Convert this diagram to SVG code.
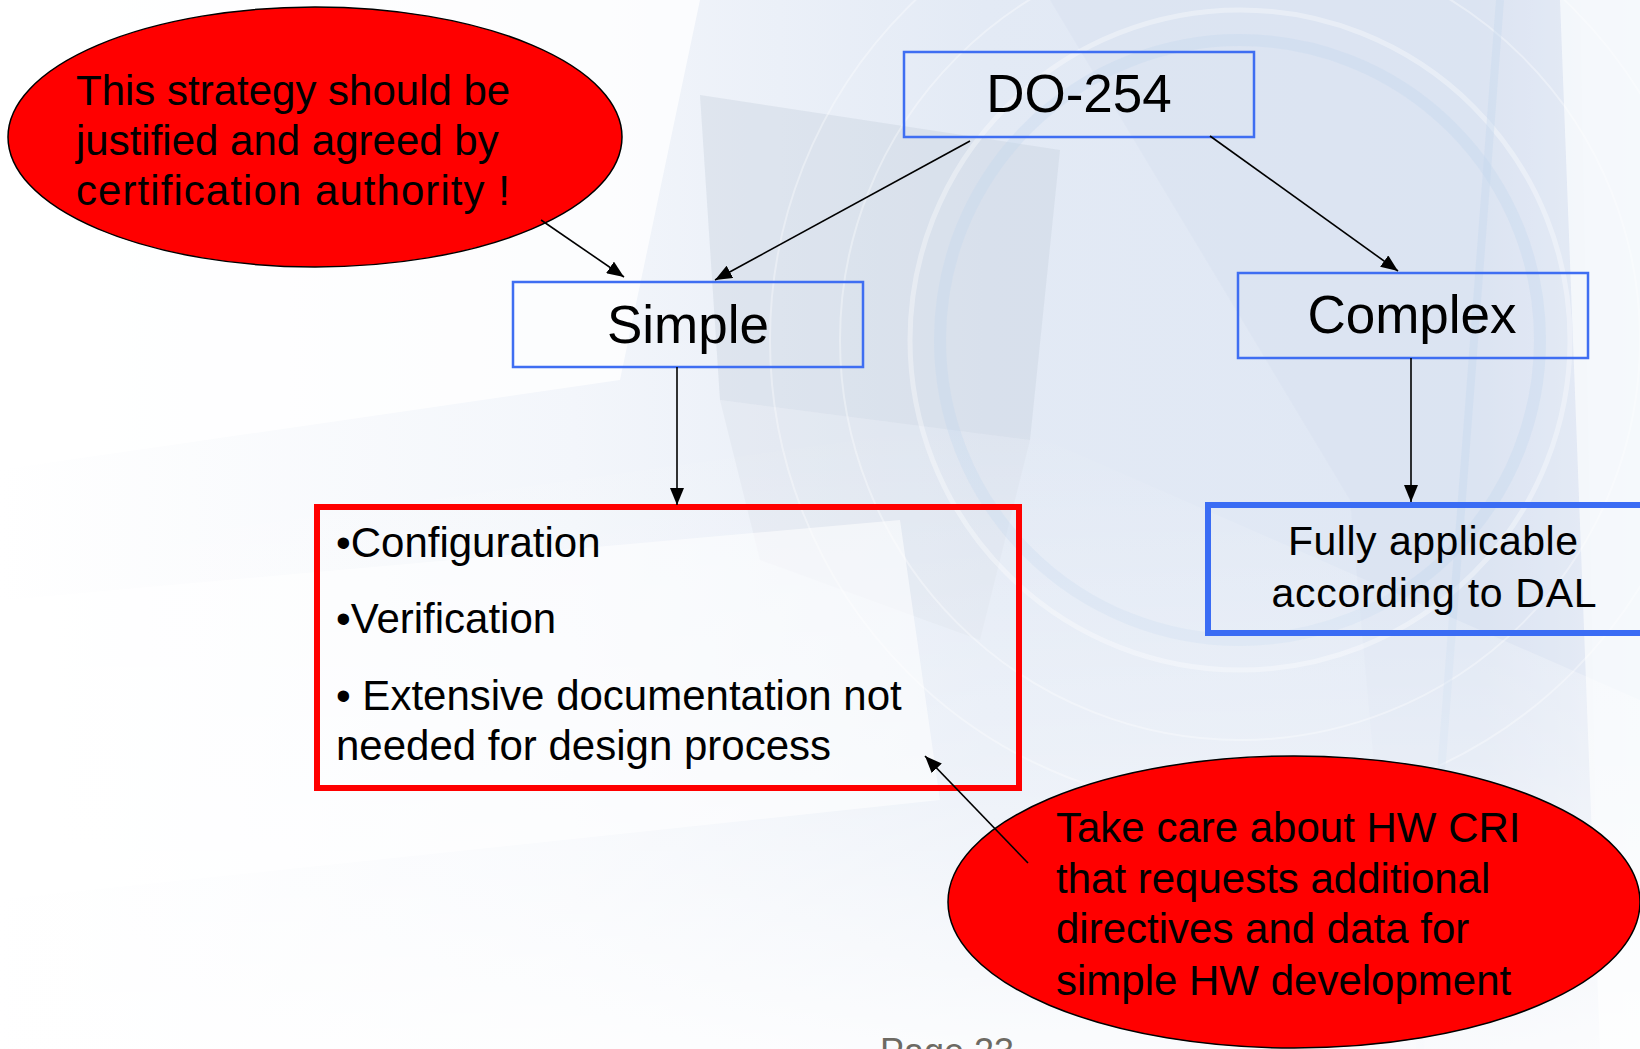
<svg xmlns="http://www.w3.org/2000/svg" width="1640" height="1049" viewBox="0 0 1640 1049">
  <defs>
    <style>
      .txt { font-family: "Liberation Sans", Arial, sans-serif; fill: #000; }
      .body { font-size: 42px; }
      .title { font-size: 53px; text-anchor: middle; }
      .thin-box { fill: none; stroke: #3f6ef2; stroke-width: 2.5; }
      .bubble { fill: #ff0000; stroke: #000; stroke-width: 1.5; }
      .edge { stroke: #000; stroke-width: 1.6; fill: none; marker-end: url(#arrow); }
    </style>
    <marker id="arrow" markerUnits="userSpaceOnUse" markerWidth="17" markerHeight="14" refX="17" refY="7" orient="auto">
      <path d="M0,0 L17,7 L0,14 z" fill="#000"/>
    </marker>
    <linearGradient id="bgFade" x1="0" y1="0" x2="1" y2="0">
      <stop offset="0" stop-color="#ffffff"/>
      <stop offset="0.35" stop-color="#f3f6fb"/>
      <stop offset="0.6" stop-color="#e3eaf5"/>
      <stop offset="0.9" stop-color="#dfe7f4"/>
      <stop offset="1" stop-color="#f6f8fc"/>
    </linearGradient>
    <linearGradient id="bgDown" x1="0" y1="0" x2="0" y2="1">
      <stop offset="0" stop-color="#ffffff" stop-opacity="0"/>
      <stop offset="0.55" stop-color="#ffffff" stop-opacity="0.35"/>
      <stop offset="1" stop-color="#ffffff" stop-opacity="0.85"/>
    </linearGradient>
  </defs>

  <!-- slide backdrop: soft blue abstract artwork -->
  <g id="backdrop">
    <rect x="0" y="0" width="1640" height="1049" fill="url(#bgFade)"/>
    <polygon points="0,0 700,0 620,380 0,470" fill="#ffffff" opacity="0.75"/>
    <polygon points="700,95 1060,150 1030,440 720,400" fill="#c8d2df" opacity="0.4"/>
    <polygon points="720,400 1030,440 980,640 760,560" fill="#d3dbe6" opacity="0.3"/>
    <polygon points="1050,0 1580,0 1600,1049 1400,1049 1350,500" fill="#d7e1f0" opacity="0.45"/>
    <polygon points="1560,0 1640,0 1640,1049 1600,1049" fill="#f5f8fc" opacity="0.9"/>
    <g fill="none" stroke="#ffffff" stroke-opacity="0.35">
      <circle cx="1240" cy="340" r="330" stroke-width="5"/>
      <circle cx="1240" cy="340" r="400" stroke-width="2"/>
      <circle cx="1240" cy="340" r="470" stroke-width="2"/>
    </g>
    <g fill="none" stroke="#c4d6ee" stroke-opacity="0.35">
      <circle cx="1240" cy="340" r="300" stroke-width="12"/>
      <path d="M1500,0 L1420,1049" stroke-width="8"/>
    </g>
    <polygon points="0,560 1000,420 1640,700 1640,1049 0,1049" fill="url(#bgDown)"/>
    <polygon points="0,600 900,520 940,800 0,900" fill="#ffffff" opacity="0.55"/>
  </g>

  <!-- page number -->
  <text class="txt" x="880" y="1064" font-size="36" style="fill:#6d6a63">Page 23</text>

  <g id="note-strategy">
    <ellipse class="bubble" cx="315" cy="137" rx="307" ry="130"/>
    <text class="txt body" x="76" y="105">This strategy should be</text>
    <text class="txt body" x="76" y="155">justified and agreed by</text>
    <text class="txt body" x="76" y="205" textLength="434">certification authority !</text>
  </g>

  <g id="node-do254">
    <rect class="thin-box" x="904" y="52" width="350" height="85"/>
    <text class="txt title" x="1079" y="112">DO-254</text>
  </g>

  <g id="node-simple">
    <rect class="thin-box" x="513" y="282" width="350" height="85"/>
    <text class="txt title" x="688" y="343">Simple</text>
  </g>

  <g id="node-complex">
    <rect class="thin-box" x="1238" y="273" width="350" height="85"/>
    <text class="txt title" x="1412" y="333">Complex</text>
  </g>

  <g id="node-simple-items">
    <rect x="317" y="507" width="702" height="281" fill="none" stroke="#ff0000" stroke-width="6"/>
    <text class="txt body" x="336" y="557">•Configuration</text>
    <text class="txt body" x="336" y="633">•Verification</text>
    <text class="txt body" x="336" y="710">• Extensive documentation not</text>
    <text class="txt body" x="336" y="760">needed for design process</text>
  </g>

  <g id="node-complex-dal">
    <rect x="1208" y="505" width="460" height="128" fill="none" stroke="#3a6cf4" stroke-width="6"/>
    <text class="txt" x="1433" y="555" font-size="41" text-anchor="middle" textLength="290">Fully applicable</text>
    <text class="txt" x="1434" y="607" font-size="41" text-anchor="middle" textLength="325">according to DAL</text>
  </g>

  <g id="note-cri">
    <ellipse class="bubble" cx="1294" cy="902" rx="346" ry="146"/>
    <text class="txt body" x="1056" y="842">Take care about HW CRI</text>
    <text class="txt body" x="1056" y="893">that requests additional</text>
    <text class="txt body" x="1056" y="943">directives and data for</text>
    <text class="txt body" x="1056" y="995">simple HW development</text>
  </g>

  <!-- connectors, drawn over the nodes -->
  <g id="connectors">
    <line class="edge" x1="970" y1="141" x2="715" y2="280"/>
    <line class="edge" x1="1210" y1="136" x2="1398" y2="271"/>
    <line class="edge" x1="541" y1="220" x2="624" y2="277"/>
    <line class="edge" x1="677" y1="367" x2="677" y2="505"/>
    <line class="edge" x1="1411" y1="358" x2="1411" y2="502"/>
    <line class="edge" x1="1028" y1="863" x2="925" y2="756"/>
  </g>
</svg>
